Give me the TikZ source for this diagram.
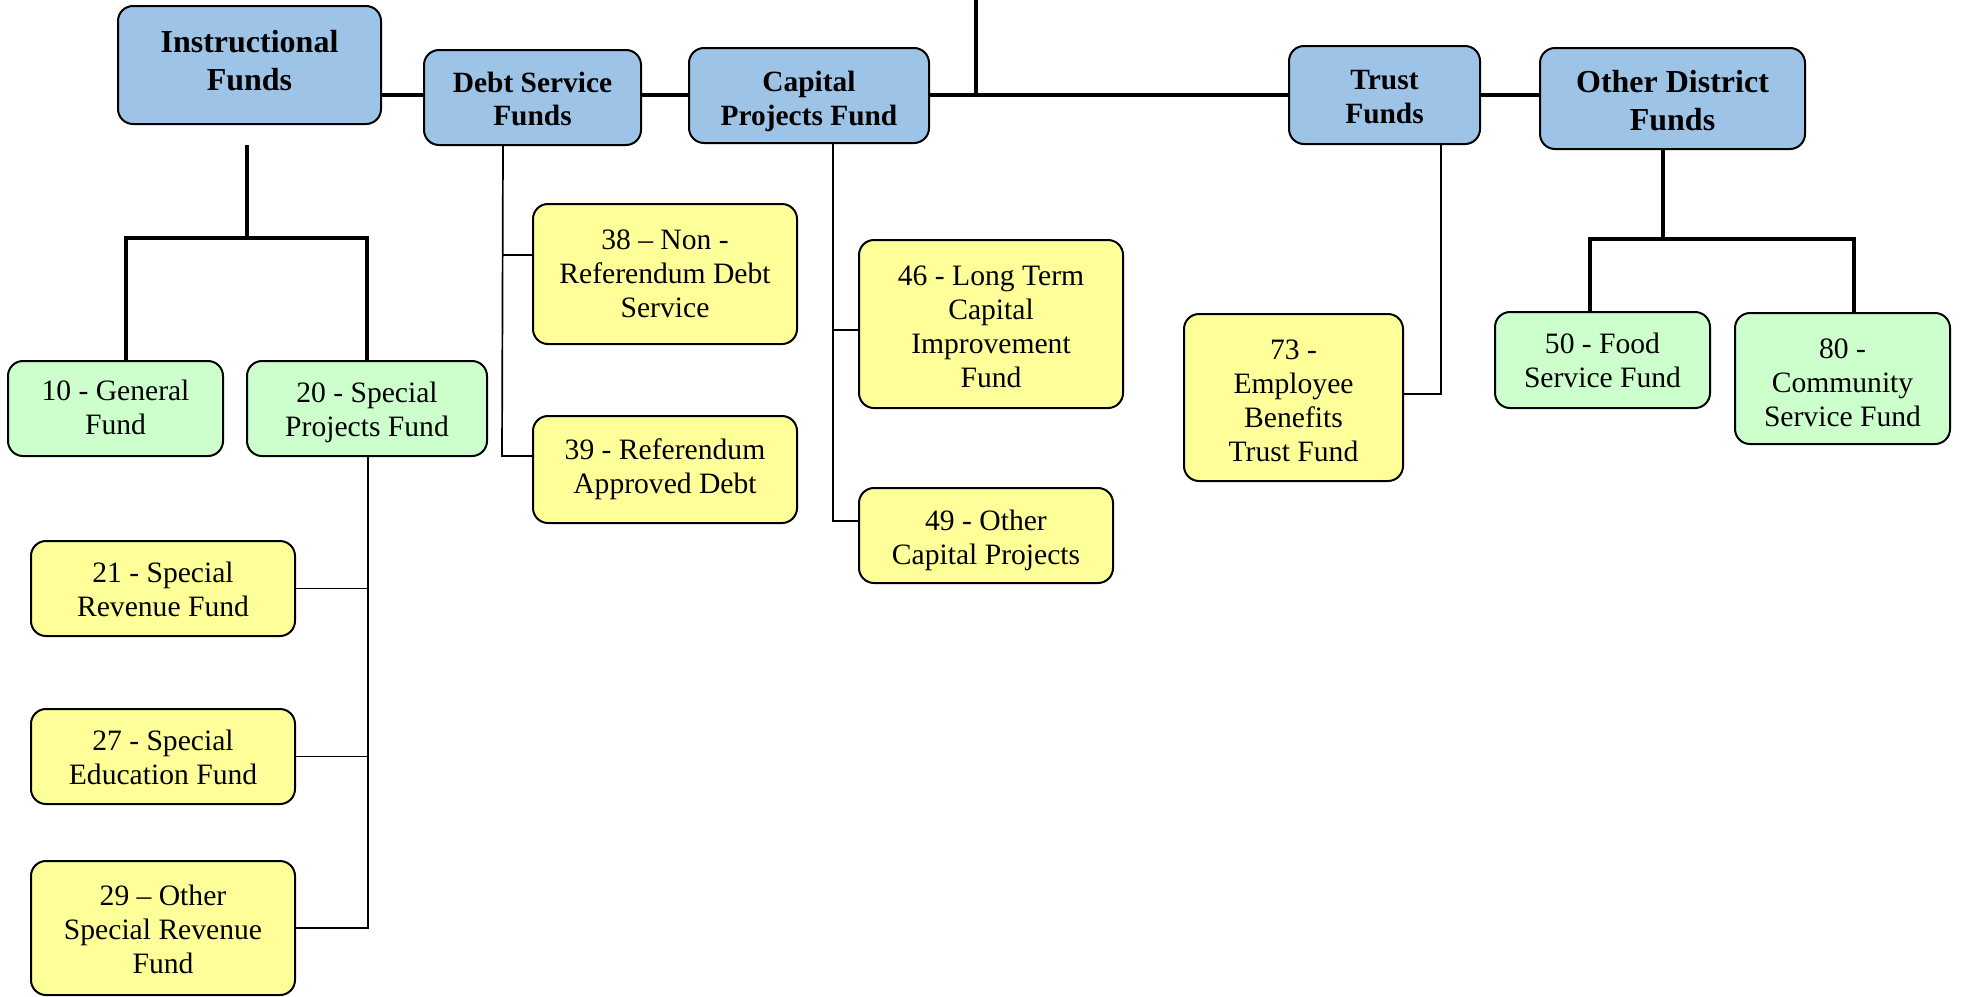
\documentclass[tikz,border=0pt]{standalone}
\usepackage{fontspec}
\setmainfont{Liberation Serif}
\usetikzlibrary{backgrounds,calc}
\definecolor{hdblue}{RGB}{157,195,230}
\definecolor{lfgreen}{RGB}{204,255,204}
\definecolor{lfyellow}{RGB}{255,255,153}
\newcommand\tx[2]{\raisebox{#1}[\height][\depth]{\begin{tabular}{@{}c@{}}#2\end{tabular}}}
\tikzset{
  box/.style={draw=black, line width=1pt, rounded corners=7.5pt, inner sep=1pt},
  hd/.style={box, fill=hdblue, font=\fontsize{14.7}{16.9}\selectfont\bfseries},
  hdbig/.style={box, fill=hdblue, font=\fontsize{16}{18.8}\selectfont\bfseries},
  gbox/.style={box, fill=lfgreen, font=\fontsize{14.8}{17}\selectfont},
  ybox/.style={box, fill=lfyellow, font=\fontsize{14.8}{17}\selectfont},
  thick line/.style={line width=1.8pt},
  thin line/.style={line width=0.85pt},
}
\begin{document}
\begin{tikzpicture}[x=0.5pt,y=-0.5pt]
\useasboundingbox (0,0) rectangle (1963,996);
% headers
\node[hdbig, minimum width=131.5pt, minimum height=59pt] (inst) at (249.5,65) {\tx{0.6pt}{Instructional\\Funds}};
\node[hd, minimum width=108.5pt, minimum height=47.5pt] (debt) at (532.5,97.5) {\tx{-2.4pt}{Debt Service\\Funds}};
\node[hd, minimum width=120pt, minimum height=47.5pt] (cap) at (809,95.5) {\tx{-3.2pt}{Capital\\Projects Fund}};
\node[hd, minimum width=95.5pt, minimum height=49pt] (trust) at (1384.5,95) {\tx{-2.2pt}{Trust\\Funds}};
\node[hdbig, minimum width=132.5pt, minimum height=50.5pt] (other) at (1672.5,98.5) {\tx{-2.8pt}{Other District\\Funds}};
% instructional children
\node[gbox, minimum width=107.5pt, minimum height=47.5pt] (gen) at (115.5,408.5) {\tx{-1.25pt}{10 - General\\Fund}};
\node[gbox, minimum width=120pt, minimum height=47.5pt] (spec) at (367,408.5) {\tx{-1.9pt}{20 - Special\\Projects Fund}};
\node[ybox, minimum width=132pt, minimum height=47.5pt] (r21) at (163,588.5) {\tx{-1.85pt}{21 - Special\\Revenue Fund}};
\node[ybox, minimum width=132pt, minimum height=47.5pt] (r27) at (163,756.5) {\tx{-1.85pt}{27 - Special\\Education Fund}};
\node[ybox, minimum width=132pt, minimum height=67pt] (r29) at (163,928) {\tx{-2.1pt}{29 – Other\\Special Revenue\\Fund}};
% debt children
\node[ybox, minimum width=132pt, minimum height=70pt] (d38) at (665,274) {\tx{-1.25pt}{38 – Non -\\Referendum Debt\\Service}};
\node[ybox, minimum width=132pt, minimum height=53.5pt] (d39) at (665,469.5) {\tx{0pt}{39 - Referendum\\Approved Debt}};
% capital children
\node[ybox, minimum width=132pt, minimum height=84pt] (c46) at (991,324) {\tx{-2.9pt}{46 - Long Term\\Capital\\Improvement\\Fund}};
\node[ybox, minimum width=127pt, minimum height=47.5pt] (c49) at (986,535.5) {\tx{-2.5pt}{49 - Other\\Capital Projects}};
% trust child
\node[ybox, minimum width=109.5pt, minimum height=83.5pt] (t73) at (1293.5,397.5) {\tx{-3.1pt}{73 -\\Employee\\Benefits\\Trust Fund}};
% other children
\node[gbox, minimum width=107.5pt, minimum height=48pt] (f50) at (1602.5,360) {\tx{-1.85pt}{50 - Food\\Service Fund}};
\node[gbox, minimum width=107.5pt, minimum height=65.5pt] (c80) at (1842.5,378.5) {\tx{-3.4pt}{80 -\\Community\\Service Fund}};
% coordinates
\coordinate (topin) at (976,0);
\coordinate (mainy) at (976,95);
\coordinate (ibar) at (247,238);
\coordinate (sx) at (368,0);
\coordinate (dx) at (503,0);
\coordinate (cx) at (833,0);
\coordinate (tx) at (1441,0);
\coordinate (obar) at (1663,239);
\begin{scope}[on background layer]
% main line
\draw[thick line] (inst.east |- mainy) -- (other.west |- mainy);
\draw[thick line] (topin) -- (mainy);
% instructional tree
\draw[thick line] ($(inst.south)+(-2.5,20)$) -- (ibar);
\draw[thick line] ($(gen.north)+(10.5,0)$) |- (ibar) -| (spec.north);
% 20 children
\draw[thin line] (spec.south -| sx) |- (r29.east);
\draw[thin line] (r21.east) -- (r21.east -| sx);
\draw[thin line] (r27.east) -- (r27.east -| sx);
% debt children
\draw[thin line] (debt.south -| dx) -- ($(d39.west |- 0,456)-(30,0)$) -- (d39.west |- 0,456);
\draw[thin line] (d38.west |- 0,255) -- ($(d38.west |- 0,255)-(30,0)$);
% capital children
\draw[thin line] (cap.south -| cx) |- (c49.west |- 0,521);
\draw[thin line] (c46.west |- 0,330) -- (c46.west |- 0,330 -| cx);
% trust child
\draw[thin line] (trust.south -| tx) |- (t73.east |- 0,394);
% other tree
\draw[thick line] (other.south -| obar) -- (obar);
\draw[thick line] ($(f50.north)+(-12.5,0)$) |- (obar) -| ($(c80.north)+(11.5,0)$);
\end{scope}
\end{tikzpicture}
\end{document}
